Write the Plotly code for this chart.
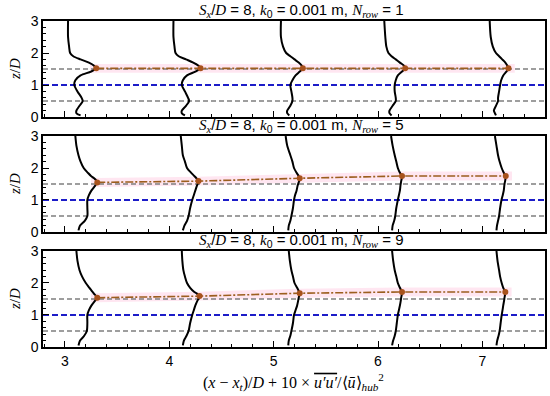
import plotly.graph_objects as go

# ---------------- data ----------------
x_ticks = [3, 4, 5, 6, 7]
n_rows = [1, 5, 9]
ref_levels_gray = [0.5, 1.5]
ref_level_hub = [1.0]

# panel 1 (N_row = 1)
z1 = [3.0, 2.5, 2.2, 2.0, 1.9, 1.8, 1.7, 1.6, 1.52, 1.42, 1.3, 1.15, 1.0, 0.8, 0.6, 0.5, 0.35, 0.2, 0.12, 0.05]
p1_a = [3.03, 3.03, 3.04, 3.05, 3.08, 3.15, 3.23, 3.28, 3.30, 3.25, 3.15, 3.10, 3.09, 3.12, 3.16, 3.17, 3.14, 3.11, 3.11, 3.15]
p1_b = [4.04, 4.04, 4.05, 4.06, 4.09, 4.16, 4.23, 4.28, 4.30, 4.25, 4.17, 4.13, 4.12, 4.15, 4.18, 4.19, 4.16, 4.12, 4.12, 4.15]
p1_c = [5.07, 5.07, 5.09, 5.12, 5.16, 5.20, 5.24, 5.27, 5.28, 5.25, 5.21, 5.18, 5.16, 5.17, 5.18, 5.18, 5.16, 5.13, 5.13, 5.15]
p1_d = [6.06, 6.07, 6.08, 6.10, 6.13, 6.17, 6.21, 6.25, 6.26, 6.23, 6.19, 6.17, 6.16, 6.16, 6.17, 6.17, 6.14, 6.11, 6.11, 6.13]
p1_e = [7.07, 7.08, 7.10, 7.13, 7.16, 7.19, 7.22, 7.24, 7.25, 7.23, 7.20, 7.18, 7.17, 7.16, 7.15, 7.15, 7.13, 7.11, 7.12, 7.13]
peak1_x = [3.30, 4.30, 5.28, 6.26, 7.25]
peak1_z = [1.52, 1.52, 1.52, 1.52, 1.52]

# panel 2 (N_row = 5)
z2 = [3.0, 2.7, 2.4, 2.2, 2.0, 1.85, 1.75, 1.68, 1.59, 1.55, 1.45, 1.3, 1.15, 1.0, 0.75, 0.5, 0.35, 0.2, 0.05]
p2_a = [3.10, 3.11, 3.13, 3.15, 3.18, 3.22, 3.25, 3.28, 3.305, 3.31, 3.29, 3.255, 3.23, 3.215, 3.215, 3.215, 3.19, 3.145, 3.13]
p2_b = [4.11, 4.12, 4.13, 4.15, 4.17, 4.21, 4.24, 4.26, 4.28, 4.278, 4.265, 4.25, 4.235, 4.22, 4.20, 4.185, 4.17, 4.145, 4.13]
p2_c = [5.115, 5.13, 5.16, 5.18, 5.195, 5.22, 5.24, 5.25, 5.245, 5.24, 5.23, 5.22, 5.205, 5.195, 5.185, 5.17, 5.16, 5.145, 5.14]
p2_d = [6.125, 6.14, 6.16, 6.175, 6.19, 6.21, 6.23, 6.228, 6.222, 6.22, 6.215, 6.21, 6.20, 6.19, 6.175, 6.165, 6.155, 6.14, 6.135]
p2_e = [7.12, 7.135, 7.15, 7.165, 7.185, 7.205, 7.224, 7.222, 7.218, 7.215, 7.21, 7.205, 7.195, 7.183, 7.17, 7.16, 7.15, 7.14, 7.135]
peak2_x = [3.31, 4.28, 5.25, 6.23, 7.224]
peak2_z = [1.55, 1.59, 1.68, 1.75, 1.75]

# panel 3 (N_row = 9)
z3 = [3.0, 2.7, 2.4, 2.2, 2.0, 1.85, 1.72, 1.68, 1.59, 1.54, 1.45, 1.3, 1.15, 1.0, 0.75, 0.5, 0.35, 0.2, 0.05]
p3_a = [3.11, 3.12, 3.14, 3.165, 3.20, 3.235, 3.265, 3.275, 3.30, 3.31, 3.29, 3.255, 3.23, 3.215, 3.215, 3.21, 3.185, 3.145, 3.13]
p3_b = [4.12, 4.125, 4.135, 4.15, 4.17, 4.20, 4.24, 4.26, 4.29, 4.285, 4.27, 4.25, 4.235, 4.22, 4.20, 4.185, 4.165, 4.14, 4.13]
p3_c = [5.145, 5.155, 5.17, 5.185, 5.20, 5.225, 5.245, 5.25, 5.245, 5.24, 5.235, 5.225, 5.21, 5.195, 5.185, 5.17, 5.16, 5.145, 5.14]
p3_d = [6.135, 6.145, 6.16, 6.175, 6.19, 6.21, 6.23, 6.229, 6.225, 6.222, 6.218, 6.21, 6.20, 6.19, 6.18, 6.17, 6.16, 6.145, 6.135]
p3_e = [7.135, 7.145, 7.16, 7.17, 7.185, 7.20, 7.22, 7.219, 7.215, 7.212, 7.208, 7.20, 7.193, 7.185, 7.175, 7.165, 7.155, 7.142, 7.135]
peak3_x = [3.31, 4.29, 5.25, 6.23, 7.22]
peak3_z = [1.54, 1.59, 1.68, 1.72, 1.72]

band_dz = 0.14     # half-height of the shaded peak-height band
band_dx = 0.06     # extension of band beyond first/last peak

panels = [
    (z1, [p1_a, p1_b, p1_c, p1_d, p1_e], peak1_x, peak1_z),
    (z2, [p2_a, p2_b, p2_c, p2_d, p2_e], peak2_x, peak2_z),
    (z3, [p3_a, p3_b, p3_c, p3_d, p3_e], peak3_x, peak3_z),
]

x_range = [2.79, 7.6]
y_range = [0, 3]

# ---------------- figure ----------------
SERIF = "Liberation Serif"
SANS = "Liberation Sans"
W, H = 550, 396
ML, MR, MT, MB = 43, 5, 21, 49
PW, PH = W - ML - MR, H - MT - MB

fig = go.Figure()

domains = [[0.7055, 1.0], [0.3528, 0.6472], [0.0, 0.2945]]

for i, (z, profs, pkx, pkz) in enumerate(panels):
    xa = "x" if i == 0 else f"x{i+1}"
    ya = "y" if i == 0 else f"y{i+1}"
    # shaded band
    bx = [pkx[0] - band_dx] + pkx + [pkx[-1] + band_dx]
    bz = [pkz[0]] + pkz + [pkz[-1]]
    fig.add_trace(go.Scatter(
        x=bx + bx[::-1],
        y=[v + band_dz for v in bz] + [v - band_dz for v in bz[::-1]],
        fill="toself", fillcolor="rgba(255,60,150,0.13)", line=dict(width=0),
        mode="lines", hoverinfo="skip", showlegend=False, xaxis=xa, yaxis=ya))
    # reference lines
    for lv in ref_levels_gray:
        fig.add_trace(go.Scatter(x=x_range, y=[lv, lv], mode="lines",
                                 line=dict(color="#7f7f7f", width=1.3, dash="5px,3px"),
                                 showlegend=False, xaxis=xa, yaxis=ya))
    for lv in ref_level_hub:
        fig.add_trace(go.Scatter(x=x_range, y=[lv, lv], mode="lines",
                                 line=dict(color="#1c1cc8", width=1.8, dash="6px,3px"),
                                 showlegend=False, xaxis=xa, yaxis=ya))
    # profiles
    for p in profs:
        fig.add_trace(go.Scatter(x=p, y=z, mode="lines",
                                 line=dict(color="black", width=2, shape="spline", smoothing=0.8),
                                 showlegend=False, xaxis=xa, yaxis=ya))
    # peak line
    fig.add_trace(go.Scatter(x=pkx, y=pkz, mode="lines+markers",
                             line=dict(color="#9c5e1e", width=1.6, dash="8px,2px,2px,2px"),
                             marker=dict(color="#a8521c", size=6),
                             showlegend=False, xaxis=xa, yaxis=ya))

axis_common = dict(showline=True, mirror=True, linecolor="black", linewidth=1.5,
                   ticks="inside", ticklen=6, tickwidth=1.2, tickcolor="black",
                   showgrid=False, zeroline=False, automargin=False,
                   tickfont=dict(family=SANS, size=14, color="black"))

layout = dict(
    width=W, height=H,
    margin=dict(l=ML, r=MR, t=MT, b=MB, autoexpand=False),
    plot_bgcolor="white", paper_bgcolor="white",
    font=dict(family=SANS, size=13, color="black"),
    showlegend=False,
)

for i in range(3):
    xk = "xaxis" if i == 0 else f"xaxis{i+1}"
    yk = "yaxis" if i == 0 else f"yaxis{i+1}"
    ya = "y" if i == 0 else f"y{i+1}"
    xa = "x" if i == 0 else f"x{i+1}"
    layout[xk] = dict(axis_common, range=x_range, tickvals=x_ticks, anchor=ya,
                      domain=[0, 1], showticklabels=(i == 2),
                      minor=dict(dtick=0.2, tick0=0, ticks="inside", ticklen=3, tickcolor="black"))
    layout[yk] = dict(axis_common, range=y_range, dtick=1, anchor=xa, domain=domains[i],
                      minor=dict(dtick=0.2, tick0=0, ticks="inside", ticklen=3, tickcolor="black"))

fig.update_layout(**layout)

def sf(t):
    return f"<span style=\"font-family:'{SERIF}'\"><i>{t}</i></span>"

for i, n in enumerate(n_rows):
    txt = (f"{sf('S')}<sub>{sf('x')}</sub>/{sf('D')} = 8, {sf('k')}<sub>0</sub> = 0.001 m, "
           f"{sf('N')}<sub>{sf('row')}</sub> = {n}")
    fig.add_annotation(text=txt, x=(301 - ML) / PW, y=domains[i][1], xref="paper", yref="paper",
                       xanchor="center", yanchor="bottom", showarrow=False,
                       font=dict(family=SANS, size=15, color="black"), borderpad=0)
    # y axis title per panel
    fig.add_annotation(text="<i>z</i>/<i>D</i>", textangle=-90,
                       x=(15 - ML) / PW, y=sum(domains[i]) / 2, xref="paper", yref="paper",
                       xanchor="center", yanchor="middle", showarrow=False,
                       font=dict(family=SERIF, size=15, color="black"))

fig.add_annotation(
    text="(<i>x</i> − <i>x<sub>t</sub></i>)/<i>D</i> + 10 × "
         "<span style='text-decoration:overline'><i>u′u′</i></span>"
         "/⟨<i>ū</i>⟩<sub><i>hub</i></sub><sup>2</sup>",
    x=(293 - ML) / PW, y=-(382 - (H - MB)) / PH, xref="paper", yref="paper",
    xanchor="center", yanchor="middle", showarrow=False,
    font=dict(family=SERIF, size=16, color="black"))

fig.write_html("out.html", config={"displayModeBar": False},
               post_script="document.body.style.margin='0';document.body.style.overflow='hidden';")
